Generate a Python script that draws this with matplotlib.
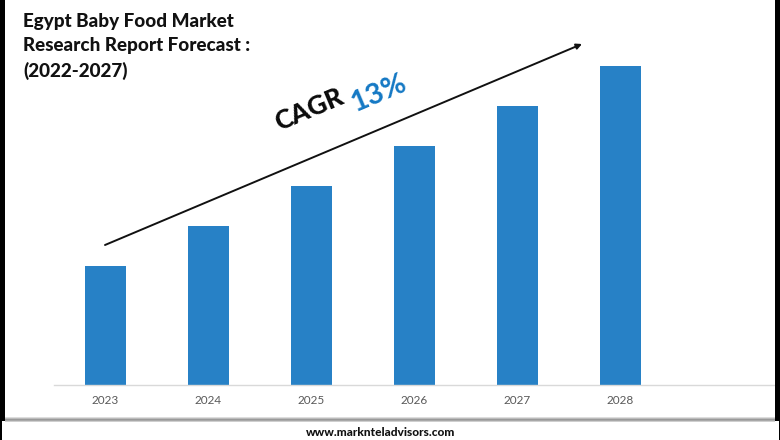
import matplotlib
matplotlib.use("Agg")
import matplotlib.pyplot as plt

years = ['2023', '2024', '2025', '2026', '2027', '2028']
# no value axis in the picture, heights read off in pixels
values = [119, 159, 199, 239, 279, 319]

W, H = 780, 440
plt.rcParams['font.family'] = ['Lato', 'DejaVu Sans']

fig = plt.figure(figsize=(W/100, H/100), dpi=100, facecolor='white')


def px(x, y):
    # picture pixels to figure fraction
    return x/W, 1 - y/H


def box(x0, y0, x1, y1, colour):
    # filled rectangle given in picture pixels
    fig.add_artist(plt.Rectangle((x0/W, 1 - y1/H), (x1 - x0)/W, (y1 - y0)/H,
                                 transform=fig.transFigure, color=colour, lw=0))


ax = fig.add_axes([54/W, 1 - 385/H, (775 - 54)/W, 385/H])
ax.bar(range(len(years)), values, width=0.4, color='#2781C6')
ax.set_xlim(-0.5, 6.5)
ax.set_ylim(0, 385)
ax.set_xticks(range(len(years)))
ax.set_xticklabels(years, fontsize=8.5, color='#595959')
ax.tick_params(axis='x', length=0, pad=7)
ax.set_yticks([])
for s in ['top', 'left', 'right']:
    ax.spines[s].set_visible(False)
ax.spines['bottom'].set_color('#D9D9D9')
ax.spines['bottom'].set_linewidth(1)
ax.patch.set_alpha(0)

# title
for i, line in enumerate(['Egypt Baby Food Market', 'Research Report Forecast :', '(2022-2027)']):
    fig.text(*px(23, 21 + i*25), line, fontsize=13.6, fontweight='black', color='#111111',
             ha='left', va='center')

# growth arrow
fig.add_artist(matplotlib.patches.FancyArrowPatch(
    px(105, 245), px(582, 44), transform=fig.transFigure,
    arrowstyle='-|>', mutation_scale=8, lw=1.4, color='#111111', shrinkA=0, shrinkB=0))

fig.text(*px(309, 110), 'CAGR', fontsize=19, fontweight='black', color='#0A0A0A',
         rotation=23, rotation_mode='anchor', ha='center', va='center')
fig.text(*px(379, 93), '13%', fontsize=21, fontweight='bold', color='#1478C4',
         rotation=23, rotation_mode='anchor', ha='center', va='center')

# side borders, thin below the band
box(0, 0, 5, 421, 'black')
box(775, 0, 780, 421, 'black')
box(0, 421, 1.5, 440, 'black')
box(778.5, 421, 780, 440, 'black')

# footer band, soft edges
band = ['#DDDDDD', '#BBBBBB', '#999999', '#A8A8A8', '#CFCFCF']
for i, c in enumerate(band):
    box(5, 417 + i, 775, 418 + i, c)

fig.text(*px(381, 432), 'www.marknteladvisors.com', fontsize=8.6, fontweight='black', color='#111111',
         ha='center', va='center')

fig.savefig('out.png', dpi=100)
